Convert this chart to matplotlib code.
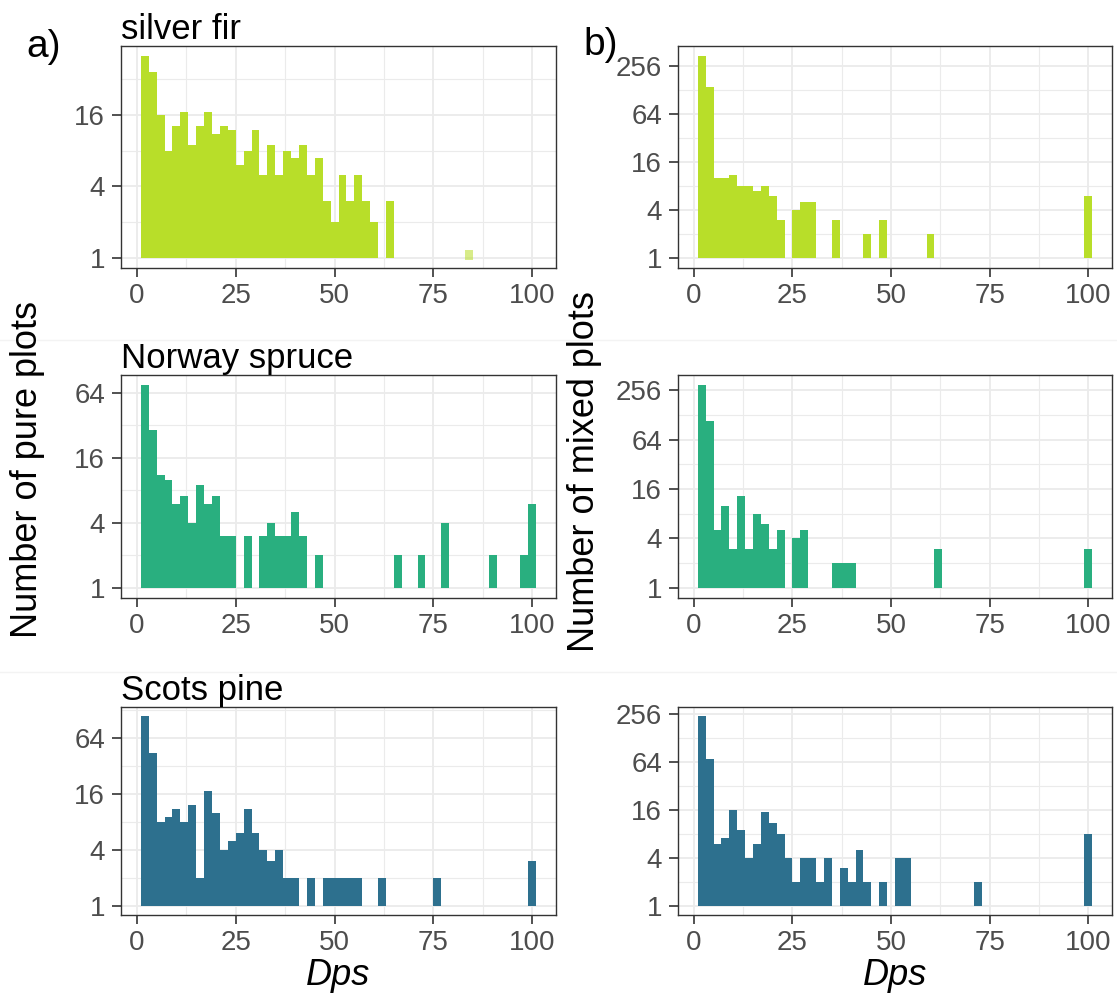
import numpy as np
import matplotlib
matplotlib.use("Agg")
import matplotlib.pyplot as plt
from matplotlib.ticker import FixedLocator, FixedFormatter

plt.rcParams['font.family'] = ['Liberation Sans', 'DejaVu Sans']

# bin centres (binwidth 2)
centers = np.arange(2, 101, 2)

# counts per bin
fir_pure = [50, 37, 16, 8, 13, 17, 9, 13, 17, 11,
            13, 12, 6, 8, 12, 5, 9, 5, 8, 7,
            9, 5, 7, 3, 2, 5, 3, 5, 3, 2,
            0, 3, 0, 0, 0, 0, 0, 0, 0, 0,
            0, 1, 0, 0, 0, 0, 0, 0, 0, 0]
fir_mixed = [342, 138, 10, 10, 11, 8, 8, 7, 8, 6,
             3, 0, 4, 5, 5, 0, 0, 3, 0, 0,
             0, 2, 0, 3, 0, 0, 0, 0, 0, 2,
             0, 0, 0, 0, 0, 0, 0, 0, 0, 0,
             0, 0, 0, 0, 0, 0, 0, 0, 0, 6]
spruce_pure = [75, 29, 11, 10, 6, 7, 4, 9, 6, 7,
               3, 3, 0, 3, 0, 3, 4, 3, 3, 5,
               3, 0, 2, 0, 0, 0, 0, 0, 0, 0,
               0, 0, 2, 0, 0, 2, 0, 0, 4, 0,
               0, 0, 0, 0, 2, 0, 0, 0, 2, 6]
spruce_mixed = [295, 108, 5, 10, 3, 13, 3, 8, 6, 3,
                5, 0, 4, 5, 0, 0, 0, 2, 2, 2,
                0, 0, 0, 0, 0, 0, 0, 0, 0, 0,
                3, 0, 0, 0, 0, 0, 0, 0, 0, 0,
                0, 0, 0, 0, 0, 0, 0, 0, 0, 3]
pine_pure = [109, 44, 8, 9, 11, 8, 12, 2, 17, 10,
             4, 5, 6, 11, 6, 4, 3, 4, 2, 2,
             0, 2, 0, 2, 2, 2, 2, 2, 0, 0,
             2, 0, 0, 0, 0, 0, 0, 2, 0, 0,
             0, 0, 0, 0, 0, 0, 0, 0, 0, 3]
pine_mixed = [240, 70, 6, 7, 16, 9, 4, 6, 15, 11,
              8, 4, 2, 4, 4, 2, 4, 0, 3, 2,
              5, 2, 0, 2, 0, 4, 4, 0, 0, 0,
              0, 0, 0, 0, 0, 2, 0, 0, 0, 0,
              0, 0, 0, 0, 0, 0, 0, 0, 0, 8]

species = ["silver fir", "Norway spruce", "Scots pine"]
colors = ["#B8DE29", "#29AF7F", "#2D708E"]
pure = [fir_pure, spruce_pure, pine_pure]
mixed = [fir_mixed, spruce_mixed, pine_mixed]

ybreaks = [1, 4, 16, 64, 256]
yminor = [2, 8, 32, 128]
xbreaks = [0, 25, 50, 75, 100]
xminor = [12.5, 37.5, 62.5, 87.5]

W, H = 1117, 1001
fig = plt.figure(figsize=(W / 100, H / 100), dpi=100)

# panel boxes in pixels: left, top, right, bottom
cols = [(121, 556), (678, 1112)]
rows = [(46, 268), (375, 598), (707, 915)]


def draw(ax, counts, color):
    counts = np.array(counts, dtype=float)
    big = counts > 1
    ax.bar(centers[big], counts[big] - 1, bottom=1, width=2, color=color,
           linewidth=0, zorder=3)
    one = counts == 1
    if one.any():
        ax.bar(centers[one], 0.2, bottom=0.96, width=2, color=color,
               alpha=0.55, linewidth=0, zorder=3)
    L = np.log2(counts.max())
    ax.set_yscale("log", base=2)
    ax.set_ylim(2 ** (-0.05 * L), 2 ** (1.05 * L))
    ax.set_xlim(-4, 106)
    ax.yaxis.set_major_locator(FixedLocator(ybreaks))
    ax.yaxis.set_major_formatter(FixedFormatter([str(b) for b in ybreaks]))
    ax.yaxis.set_minor_locator(FixedLocator(yminor))
    ax.yaxis.set_minor_formatter(FixedFormatter([""] * len(yminor)))
    ax.set_xticks(xbreaks)
    ax.set_xticks(xminor, minor=True)
    ax.grid(which="major", color="#EBEBEB", lw=1.3, zorder=0)
    ax.grid(which="minor", color="#EBEBEB", lw=0.8, zorder=0)
    ax.tick_params(which="minor", length=0)
    ax.tick_params(which="major", length=6.5, width=1.2, color="#333333",
                   labelsize=20, labelcolor="#4D4D4D")
    ax.tick_params(axis="x", pad=4)
    ax.tick_params(axis="y", pad=5)
    for s in ax.spines.values():
        s.set_color("#333333")
        s.set_linewidth(1.0)
    ax.set_axisbelow(True)


for r in range(3):
    for c in range(2):
        l, rr = cols[c]
        t, b = rows[r]
        ax = fig.add_axes([l / W, 1 - b / H, (rr - l) / W, (b - t) / H])
        data = pure[r] if c == 0 else mixed[r]
        draw(ax, data, colors[r])
        if c == 0:
            ax.set_title(species[r], loc="left", fontsize=25, pad=3)
        if r == 2:
            ax.set_xlabel("Dps", fontsize=26, style="italic", labelpad=2)

# faint separators between rows
for yy in [340, 672]:
    fig.add_artist(plt.Line2D([0, 1], [1 - yy / H, 1 - yy / H],
                              color="#F3F3F3", lw=1))

fig.text(26 / W, 1 - 47 / H, "a)", fontsize=28, va="center", ha="left")
fig.text(583 / W, 1 - 45 / H, "b)", fontsize=28, va="center", ha="left")
fig.text(28 / W, 1 - 470 / H, "Number of pure plots", fontsize=26,
         rotation=90, va="center", ha="center")
fig.text(585 / W, 1 - 472 / H, "Number of mixed plots", fontsize=26,
         rotation=90, va="center", ha="center")

fig.savefig("out.png", dpi=100)
